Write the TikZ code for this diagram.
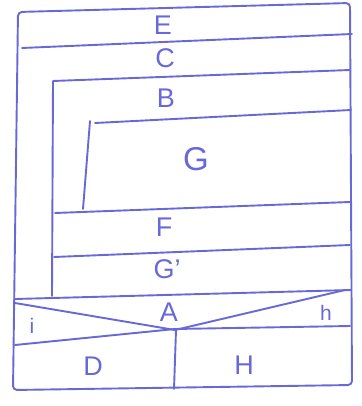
\documentclass[tikz,border=0pt]{standalone}
\usepackage{fontspec}
\setmainfont{Liberation Sans}
\definecolor{pen}{RGB}{104,104,214}
\begin{document}
\begin{tikzpicture}[x=1pt,y=-1pt,
  pen/.style={draw=pen,line width=1.9pt,line cap=round,line join=round},
  lbl/.style={text=pen,font=\fontsize{27}{27}\selectfont,inner sep=0pt}]
\useasboundingbox (0,0) rectangle (361,406);
% outer frame
\draw[pen,rounded corners=4pt] (18,12) -- (350,3) -- (352,385) -- (13,390) -- cycle;
% horizontal lines
\draw[pen] (22,48) -- (352,34);
\draw[pen] (52,296) -- (53,81) -- (350,70);
\draw[pen] (83,209) -- (90,121);
\draw[pen] (95,123) -- (351,110);
\draw[pen] (55,213) -- (350,202);
\draw[pen] (54,257) -- (350,245);
\draw[pen] (15,299) -- (351,290);
% A section
\draw[pen] (15,303) -- (175,330) -- (345,290);
\draw[pen] (15,345) -- (175,329) -- (350,326);
\draw[pen] (176,330) -- (174,389);
% labels
\node[lbl] (E) at (163,25) {E};
\node[lbl] (C) at (165,58) {C};
\node[lbl] (B) at (166,98) {B};
\node[lbl,font=\fontsize{33}{33}\selectfont] (G) at (196,159) {G};
\node[lbl] (F) at (164,227) {F};
\node[lbl] (Gp) at (167,269) {G'};
\node[lbl] (A) at (169,312) {A};
\node[lbl,font=\fontsize{21}{21}\selectfont] (i) at (32,326) {i};
\node[lbl,font=\fontsize{21}{21}\selectfont] (h) at (326,313) {h};
\node[lbl] (D) at (93,366) {D};
\node[lbl] (H) at (244,365) {H};
\end{tikzpicture}
\end{document}
